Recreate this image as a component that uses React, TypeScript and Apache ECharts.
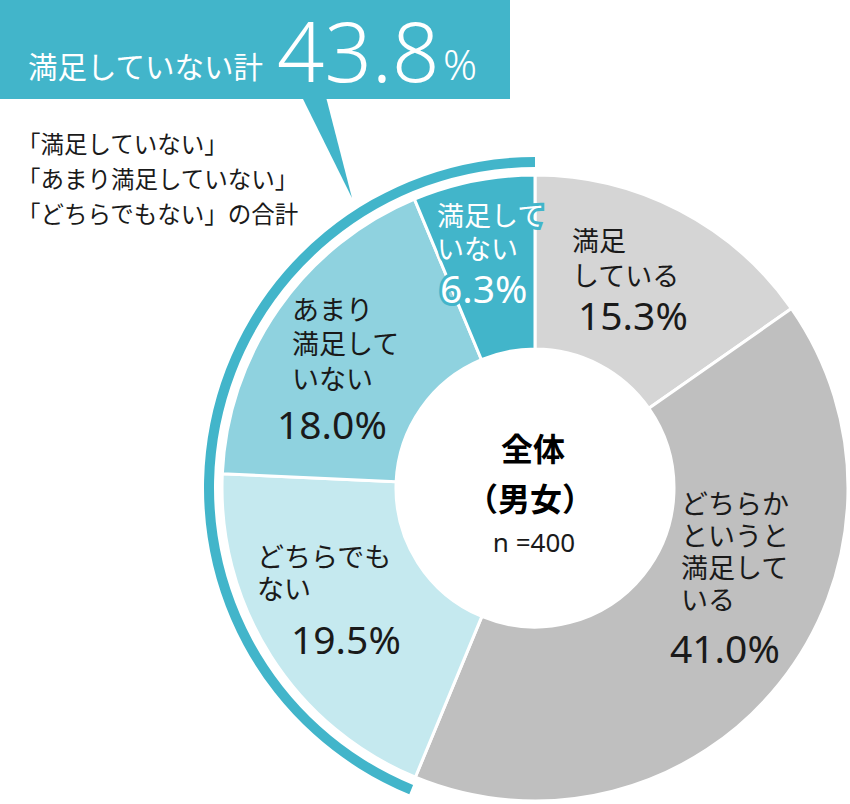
import { useEffect, useRef } from 'react'
import * as echarts from 'echarts'

const CATEGORIES = ['満足している', 'どちらかというと満足している', 'どちらでもない', 'あまり満足していない', '満足していない']
const VALUES = [15.3, 41.0, 19.5, 18.0, 6.3]
const LABEL_LINES = [
  ['満足', 'している'],
  ['どちらか', 'というと', '満足して', 'いる'],
  ['どちらでも', 'ない'],
  ['あまり', '満足して', 'いない'],
  ['満足して', 'いない'],
]
const COLORS = ['#d5d5d5', '#bfbfbf', '#c5e9ef', '#8fd2df', '#42b5ca']
const DISSATISFIED_TOTAL = 43.8
const DISSATISFIED_PARTS = ['満足していない', 'あまり満足していない', 'どちらでもない']
const SAMPLE_N = 400

const TEAL = '#42b5ca'
const FONT = "'Noto Sans', 'Noto Sans CJK JP', sans-serif"
const JP_FONT = "'Noto Sans CJK JP', sans-serif"

// label block placement: left x, top y, indents and line heights
const LABEL_BOX = [
  { x: 571, y: 222, jpIndent: 1, pctIndent: 7, jpLH: 35, pctLH: 45 },
  { x: 670, y: 486, jpIndent: 11, pctIndent: 0, jpLH: 32, pctLH: 66 },
  { x: 257, y: 539, jpIndent: 0, pctIndent: 34, jpLH: 32, pctLH: 70 },
  { x: 277, y: 291, jpIndent: 15, pctIndent: 0, jpLH: 34.5, pctLH: 57 },
  { x: 437, y: 198, jpIndent: 0, pctIndent: 3, jpLH: 33, pctLH: 47 },
]

export default function App() {
  const chartRef = useRef<HTMLDivElement>(null)

  useEffect(() => {
    if (!chartRef.current) return
    const chart = echarts.init(chartRef.current, undefined, { renderer: 'svg' })

    const rich: Record<string, any> = {}
    LABEL_BOX.forEach((b, i) => {
      const last = i === VALUES.length - 1
      rich['j' + i] = {
        fontFamily: JP_FONT,
        fontSize: 27,
        lineHeight: b.jpLH,
        color: last ? '#fff' : '#1a1a1a',
        padding: [0, 0, 0, b.jpIndent],
        textBorderColor: last ? TEAL : 'transparent',
        textBorderWidth: last ? 6 : 0,
      }
      rich['p' + i] = {
        fontFamily: FONT,
        fontSize: 39,
        lineHeight: b.pctLH,
        color: last ? '#fff' : '#1a1a1a',
        padding: [0, 0, 0, b.pctIndent],
        textBorderColor: last ? TEAL : 'transparent',
        textBorderWidth: last ? 6 : 0,
      }
    })

    const option: echarts.EChartsOption = {
      animation: false,
      textStyle: { fontFamily: FONT },
      graphic: [
        { type: 'rect', shape: { x: 0, y: 0, width: 510, height: 99 }, style: { fill: TEAL }, z: 1 },
        { type: 'polygon', shape: { points: [[302, 97], [326, 97], [352, 198]] }, style: { fill: TEAL }, z: 1 },
        {
          type: 'text', x: 28, y: 65, z: 2,
          style: { text: '満足していない計', font: `29.5px ${JP_FONT}`, fill: '#fff', verticalAlign: 'middle', align: 'left' },
        },
        {
          type: 'text', x: 277, y: 49, z: 2,
          style: { text: DISSATISFIED_TOTAL.toFixed(1), font: `300 83px ${FONT}`, fill: '#fff', verticalAlign: 'middle', align: 'left' },
        },
        {
          type: 'text', x: 443, y: 63, z: 2,
          style: { text: '%', font: `300 42px ${FONT}`, fill: '#fff', verticalAlign: 'middle', align: 'left' },
        },
        {
          type: 'text', x: 17, y: 125, z: 2,
          style: {
            text: DISSATISFIED_PARTS.map((p, i) => `「${p}」${i === DISSATISFIED_PARTS.length - 1 ? 'の合計' : ''}`).join('\n'),
            font: `23.5px ${JP_FONT}`, lineHeight: 35, fill: '#1a1a1a', verticalAlign: 'top', align: 'left',
          },
        },
        {
          type: 'text', x: 533, y: 447, z: 10,
          style: { text: '全体', font: `bold 32px ${JP_FONT}`, fill: '#000', align: 'center', verticalAlign: 'middle' },
        },
        {
          type: 'text', x: 530, y: 497, z: 10,
          style: { text: '（男女）', font: `bold 32px ${JP_FONT}`, fill: '#000', align: 'center', verticalAlign: 'middle' },
        },
        {
          type: 'text', x: 534, y: 542, z: 10,
          style: { text: `n =${SAMPLE_N}`, font: `26px ${FONT}`, fill: '#1a1a1a', align: 'center', verticalAlign: 'middle' },
        },
      ],
      series: [
        {
          type: 'pie',
          silent: true,
          center: [535, 488],
          radius: [139, 313],
          startAngle: 90,
          clockwise: true,
          avoidLabelOverlap: false,
          itemStyle: { borderColor: '#fff', borderWidth: 3 },
          emphasis: { disabled: true },
          labelLine: { show: false },
          label: {
            show: true,
            position: 'inside',
            formatter: (p: any) => {
              const i = p.dataIndex
              const jp = LABEL_LINES[i].map(l => `{j${i}|${l}}`).join('\n')
              return `${jp}\n{p${i}|${VALUES[i].toFixed(1)}%}`
            },
            rich,
          },
          labelLayout: (p: any) => {
            const b = LABEL_BOX[p.dataIndex]
            return { x: b.x, y: b.y, align: 'left', verticalAlign: 'top' }
          },
          data: CATEGORIES.map((name, i) => ({
            name,
            value: VALUES[i],
            itemStyle: { color: COLORS[i] },
          })),
        },
        {
          type: 'pie',
          silent: true,
          center: [535, 488],
          radius: [321, 331],
          startAngle: 90,
          clockwise: false,
          label: { show: false },
          labelLine: { show: false },
          emphasis: { disabled: true },
          data: [
            { name: '満足していない計', value: DISSATISFIED_TOTAL, itemStyle: { color: TEAL } },
            { name: 'その他', value: 100 - DISSATISFIED_TOTAL, itemStyle: { color: 'rgba(0,0,0,0)' } },
          ],
        },
      ],
    }

    chart.setOption(option)
    return () => chart.dispose()
  }, [])

  return <div ref={chartRef} style={{ position: 'absolute', left: 0, top: 0, width: 850, height: 804 }} />
}
